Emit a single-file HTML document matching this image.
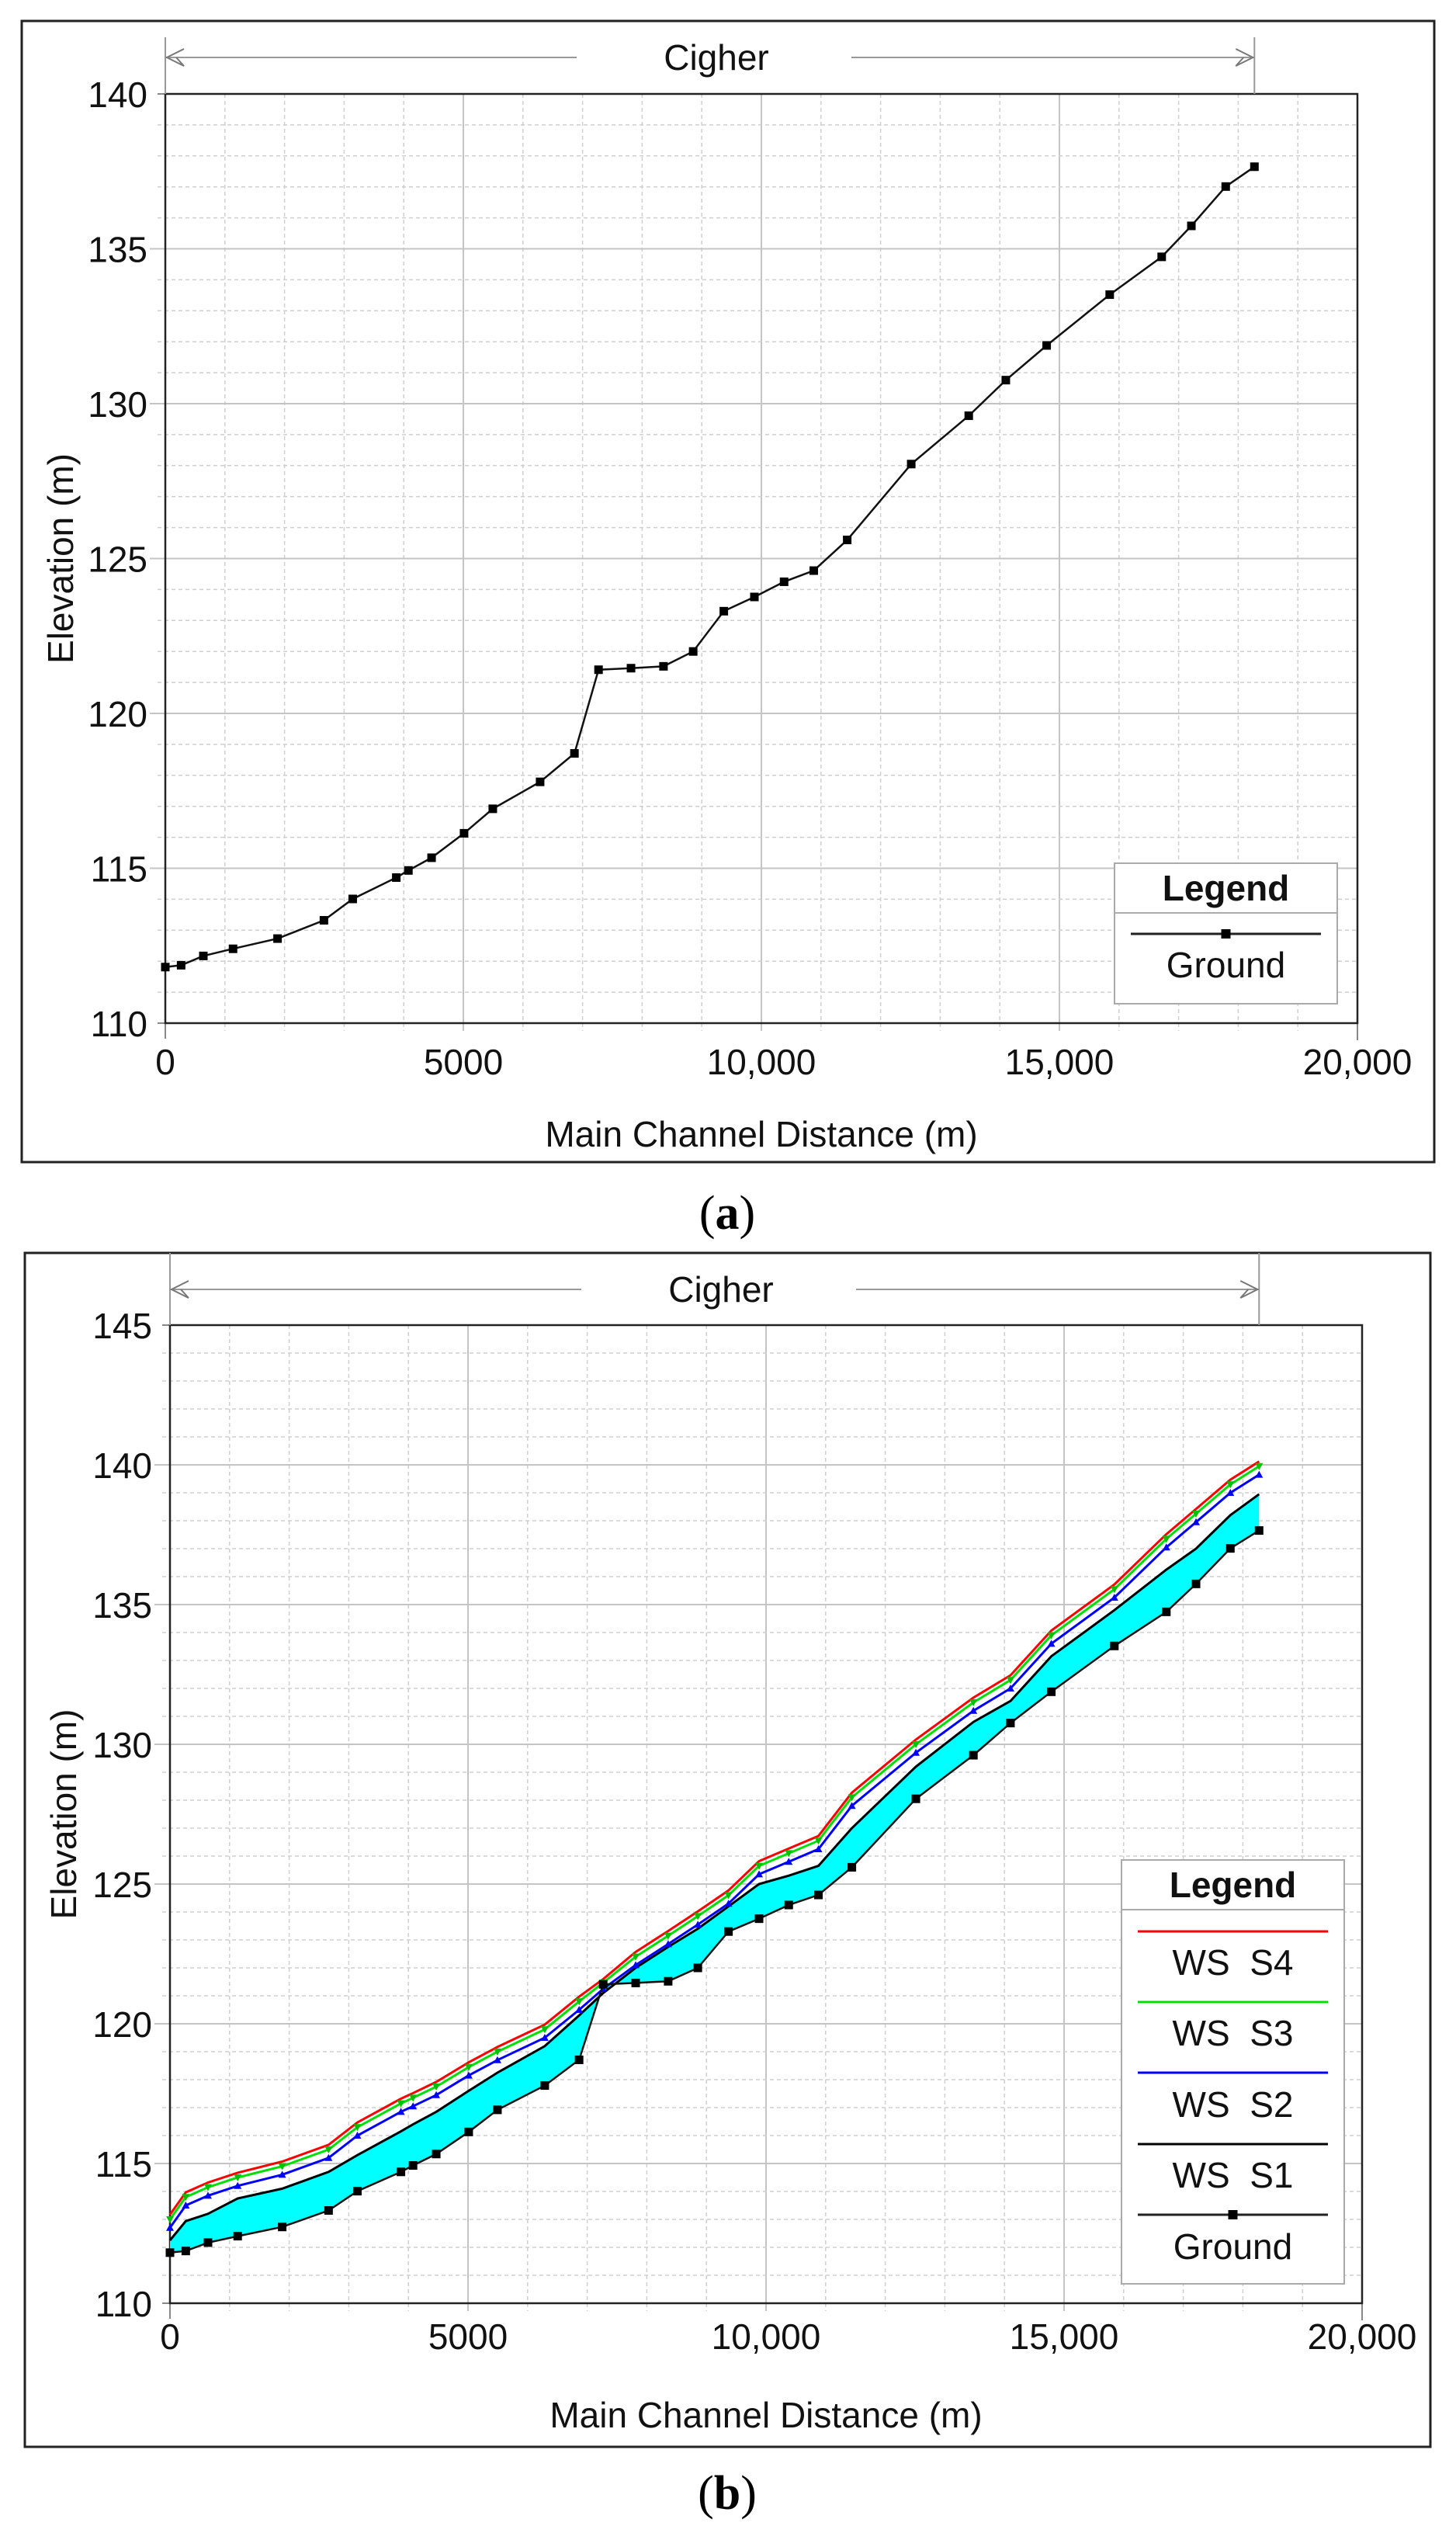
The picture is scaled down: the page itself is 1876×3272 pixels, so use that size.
<!DOCTYPE html>
<html><head><meta charset="utf-8"><style>
html,body{margin:0;padding:0;background:#fff}
svg{display:block}
text{font-family:"Liberation Sans",Arial,sans-serif;fill:#111;white-space:pre}
</style></head><body>
<svg id="s" width="1876" height="3272" viewBox="0 0 1876 3272" xmlns="http://www.w3.org/2000/svg">
<rect width="1876" height="3272" fill="#fff"/>
</svg>
<script>
const S=document.getElementById('s');const NS='http://www.w3.org/2000/svg';
function el(t,a,txt){const e=document.createElementNS(NS,t);for(const k in a)e.setAttribute(k,a[k]);if(txt!==undefined)e.textContent=txt;S.appendChild(e);return e;}
const G=[[0,111.81],[265,111.87],[638,112.17],[1136,112.40],[1883,112.73],[2661,113.32],[3144,114.01],[3875,114.70],[4078,114.93],[4467,115.34],[5012,116.13],[5494,116.92],[6288,117.79],[6864,118.71],[7268,121.41],[7813,121.46],[8358,121.52],[8856,122.00],[9370,123.30],[9883,123.76],[10381,124.25],[10879,124.61],[11440,125.60],[12514,128.05],[13479,129.61],[14101,130.76],[14786,131.88],[15844,133.52],[16716,134.74],[17214,135.74],[17790,137.01],[18272,137.65]];
const S1v=[112.25,112.94,113.2,113.75,114.1,114.7,115.3,116.15,116.4,116.85,117.6,118.25,119.2,120.3,121.1,122.0,122.75,123.4,124.2,125.0,125.3,125.65,127.0,129.2,130.8,131.55,133.15,134.8,136.25,137.0,138.2,138.95];
const S2v=[112.7,113.5,113.85,114.2,114.6,115.2,116.0,116.85,117.05,117.45,118.15,118.7,119.5,120.5,121.25,122.1,122.85,123.55,124.3,125.35,125.8,126.25,127.8,129.7,131.2,132.0,133.6,135.25,137.05,137.95,139.0,139.65];
const FS=46;
function chart(o){
 const L=o.L,R=o.L+1536,T=o.T,B=o.B,ymin=110,ymax=o.ymax;
 const X=v=>L+v/20000*1536, Y=v=>B-(v-ymin)/(ymax-ymin)*(B-T);
 el('rect',{x:o.bx,y:o.by,width:o.bw,height:o.bh,fill:'none',stroke:'#222','stroke-width':3});
 for(let v=1000;v<20000;v+=1000){const maj=v%5000==0;el('line',{x1:X(v),y1:T,x2:X(v),y2:B+10,stroke:maj?'#c4c4c4':'#cfcfcf','stroke-width':maj?2:1.5,'stroke-dasharray':maj?'':'5,4'});}
 for(let v=ymin+1;v<ymax;v++){const maj=v%5==0;el('line',{x1:L-(maj?20:10),y1:Y(v),x2:R,y2:Y(v),stroke:maj?'#c4c4c4':'#cfcfcf','stroke-width':maj?2:1.5,'stroke-dasharray':maj?'':'5,4'});}
 el('line',{x1:L-10,y1:T,x2:L,y2:T,stroke:'#888','stroke-width':2});
 el('line',{x1:L-10,y1:B,x2:L,y2:B,stroke:'#888','stroke-width':2});
 el('line',{x1:L,y1:B,x2:L,y2:B+20,stroke:'#888','stroke-width':2});
 el('line',{x1:R,y1:B,x2:R,y2:B+22,stroke:'#888','stroke-width':2});
 el('rect',{x:L,y:T,width:1536,height:B-T,fill:'none',stroke:'#222','stroke-width':2.5});
 const ay=o.ay,xr=X(18272);
 el('line',{x1:L,y1:o.vt,x2:L,y2:T,stroke:'#999','stroke-width':2});
 el('line',{x1:xr,y1:o.vt,x2:xr,y2:T,stroke:'#999','stroke-width':2});
 el('line',{x1:L,y1:ay,x2:L+530,y2:ay,stroke:'#999','stroke-width':2});
 el('line',{x1:L+884,y1:ay,x2:xr,y2:ay,stroke:'#999','stroke-width':2});
 el('polyline',{points:`${L+24},${ay-11} ${L+2},${ay} ${L+24},${ay+11} ${L+14},${ay}`,fill:'none',stroke:'#777','stroke-width':2});
 el('polyline',{points:`${xr-24},${ay-11} ${xr-2},${ay} ${xr-24},${ay+11} ${xr-14},${ay}`,fill:'none',stroke:'#777','stroke-width':2});
 el('text',{x:L+710,y:ay+16,'font-size':FS,'text-anchor':'middle'},'Cigher');
 for(let v=ymin;v<=ymax;v+=5)el('text',{x:L-23,y:Y(v)+17,'font-size':FS,'text-anchor':'end'},String(v));
 [[0,'0'],[5000,'5000'],[10000,'10,000'],[15000,'15,000'],[20000,'20,000']].forEach(([v,t])=>el('text',{x:X(v),y:o.xly,'font-size':FS,'text-anchor':'middle'},t));
 el('text',{x:(L+R)/2,y:o.xty,'font-size':FS,'text-anchor':'middle'},'Main Channel Distance (m)');
 el('text',{x:0,y:0,'font-size':FS,'text-anchor':'middle',transform:`translate(${o.ytx},${(T+B)/2}) rotate(-90)`},'Elevation (m)');
 el('text',{x:937,y:o.capy,'font-size':62,'text-anchor':'middle',style:'font-family:"Liberation Serif",serif;fill:#000'},'').innerHTML='(<tspan font-weight="bold">'+o.cap+'</tspan>)';
 const pts=a=>a.map(p=>X(p[0]).toFixed(1)+','+Y(p[1]).toFixed(1)).join(' ');
 if(o.ws){
  const s1=G.map((p,i)=>[p[0],S1v[i]]);
  const poly=s1.concat(G.slice().reverse());
  el('polygon',{points:pts(poly),fill:'#00ffff',stroke:'none'});
  const s2=G.map((p,i)=>[p[0],S2v[i]]);
  const s3=G.map((p,i)=>[p[0],S2v[i]+(i==14?0.22:0.3)]);
  const s4=G.map((p,i)=>[p[0],S2v[i]+(i==14?0.35:0.47)]);
  el('polyline',{points:pts(s1),fill:'none',stroke:'#000','stroke-width':3});
  el('polyline',{points:pts(s4),fill:'none',stroke:'#ff0000','stroke-width':3});
  el('polyline',{points:pts(s3),fill:'none',stroke:'#00e000','stroke-width':3});
  el('polyline',{points:pts(s2),fill:'none',stroke:'#0000ff','stroke-width':3});
  s2.forEach(p=>{const x=X(p[0]),y=Y(p[1]);el('polygon',{points:`${x-5},${y+4} ${x+5},${y+4} ${x},${y-5}`,fill:'#0000ff'});});
  s3.forEach(p=>{const x=X(p[0]),y=Y(p[1]);el('polygon',{points:`${x-5},${y-4} ${x+5},${y-4} ${x},${y+5}`,fill:'#00c000'});});
 }
 el('polyline',{points:pts(G),fill:'none',stroke:'#111','stroke-width':2.5});
 G.forEach(p=>el('rect',{x:X(p[0])-5.5,y:Y(p[1])-5.5,width:11,height:11,fill:'#000'}));
 const lg=o.lg;
 el('rect',{x:lg.x,y:lg.y,width:lg.w,height:lg.h,fill:'#fff',stroke:'#aaa','stroke-width':2});
 el('line',{x1:lg.x,y1:lg.hy,x2:lg.x+lg.w,y2:lg.hy,stroke:'#aaa','stroke-width':2});
 const cx=lg.x+lg.w/2;
 el('text',{x:cx,y:lg.ty,'font-size':FS,'font-weight':'bold','text-anchor':'middle'},'Legend');
 lg.items.forEach(it=>{
  el('line',{x1:lg.l1,y1:it.ly,x2:lg.l2,y2:it.ly,stroke:it.c,'stroke-width':3});
  if(it.m)el('rect',{x:cx-6,y:it.ly-6,width:12,height:12,fill:'#000'});
  el('text',{x:cx,y:it.ty,'font-size':FS,'text-anchor':'middle','xml:space':'preserve'},it.t);
 });
}
chart({L:213,T:121,B:1318,ymax:140,bx:28,by:27,bw:1820,bh:1470,ay:74,vt:48,xly:1384,xty:1477,ytx:94,capy:1583,cap:'a',
 lg:{x:1436,y:1112,w:287,h:181,hy:1176,ty:1160,l1:1457,l2:1702,items:[{ly:1203,ty:1259,c:'#222',t:'Ground',m:1}]}});
chart({L:219,T:1707,B:2967,ymax:145,bx:32,by:1614,bw:1811,bh:1538,ay:1661,vt:1614,xly:3026,xty:3127,ytx:98,capy:3232,cap:'b',ws:1,
 lg:{x:1445,y:2396,w:287,h:546,hy:2460,ty:2444,l1:1466,l2:1711,items:[
  {ly:2488,ty:2544,c:'#ff0000',t:'WS\u00a0\u00a0S4'},{ly:2579,ty:2635,c:'#00e000',t:'WS\u00a0\u00a0S3'},{ly:2670,ty:2727,c:'#0000ff',t:'WS\u00a0\u00a0S2'},
  {ly:2762,ty:2818,c:'#000',t:'WS\u00a0\u00a0S1'},{ly:2853,ty:2910,c:'#222',t:'Ground',m:1}]}});
</script>
</body></html>
